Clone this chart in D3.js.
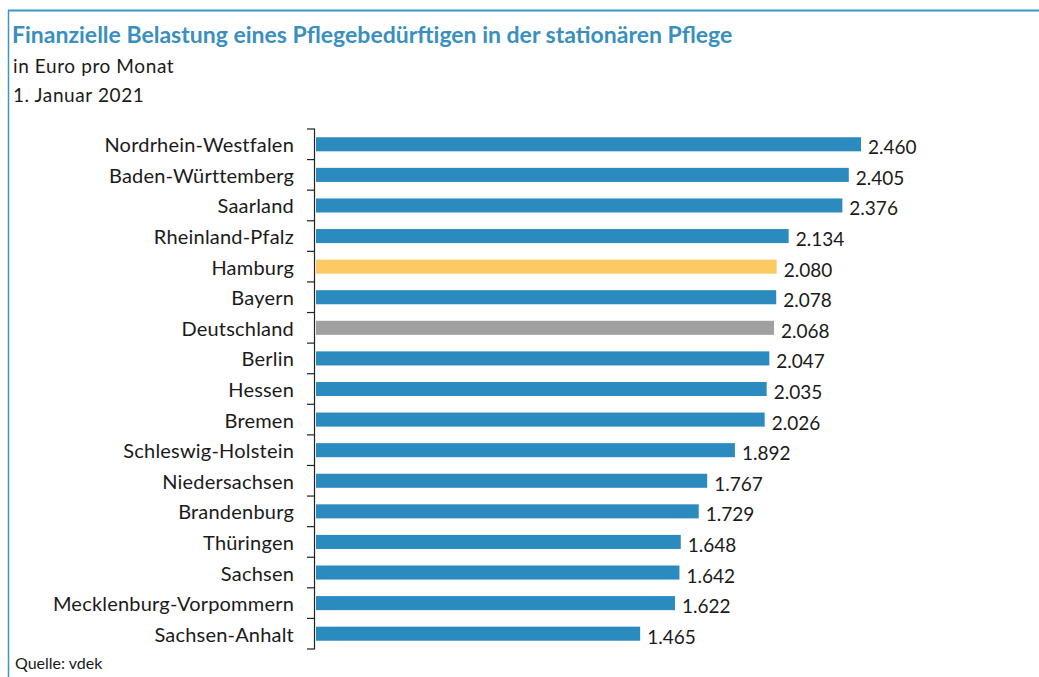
<!DOCTYPE html>
<html>
<head>
<meta charset="utf-8">
<script src="https://cdn.jsdelivr.net/npm/d3@7"></script>
<style>
  body { margin: 0; background: #fff; }
  svg text { font-family: Lato, "Open Sans", sans-serif; }
</style>
</head>
<body>
<svg id="chart" width="1039" height="677"></svg>
<script>
// Daten: Bundeslaender und monatliche Eigenanteile (Euro)
var states = ["Nordrhein-Westfalen", "Baden-Württemberg", "Saarland", "Rheinland-Pfalz",
  "Hamburg", "Bayern", "Deutschland", "Berlin", "Hessen", "Bremen", "Schleswig-Holstein",
  "Niedersachsen", "Brandenburg", "Thüringen", "Sachsen", "Mecklenburg-Vorpommern", "Sachsen-Anhalt"];
var costs = [2460, 2405, 2376, 2134, 2080, 2078, 2068, 2047, 2035, 2026, 1892, 1767, 1729, 1648, 1642, 1622, 1465];
var highlight = { "Hamburg": "#fdc962", "Deutschland": "#a0a0a0" };

var svg = d3.select("#chart");
var margin = { top: 129, left: 315, bottom: 28 };

/** Rahmen oben und links */
svg.append("line").attr("x1", 8).attr("x2", 1039).attr("y1", 10.5).attr("y2", 10.5)
  .attr("stroke", "#3d95c2").attr("stroke-width", 2);
svg.append("line").attr("x1", 8.5).attr("x2", 8.5).attr("y1", 10).attr("y2", 677)
  .attr("stroke", "#3d95c2").attr("stroke-width", 1.5);

/** Titel */
svg.append("text").attr("x", 12).attr("y", 43)
  .style("font-size", "23px").style("font-weight", 700).attr("fill", "#3a8fbf")
  .text("Finanzielle Belastung eines Pflegebedürftigen in der stationären Pflege");
svg.append("text").attr("x", 13).attr("y", 73).style("font-size", "19px")
  .style("letter-spacing", "0.6px").attr("fill", "#1a1a1a")
  .text("in Euro pro Monat");
svg.append("text").attr("x", 13).attr("y", 102).style("font-size", "19px")
  .style("letter-spacing", "0.6px").attr("fill", "#1a1a1a")
  .text("1. Januar 2021");

var x = d3.scaleLinear().domain([0, 2460]).range([margin.left, 861]);
var y = d3.scaleBand().domain(states).range([margin.top, 649]).paddingInner(0.54).paddingOuter(0.27);

/** Balken */
svg.selectAll("rect.bar").data(states).enter().append("rect")
  .attr("class", "bar")
  .attr("x", x(0) + 1)
  .attr("y", function(d) { return y(d); })
  .attr("width", function(d, i) { return x(costs[i]) - x(0) - 1; })
  .attr("height", y.bandwidth())
  .attr("fill", function(d) { return highlight[d] || "#2b8bbf"; });

/** Werte */
var fmt = function(v) { return d3.format(",")(v).replace(",", "."); };
svg.selectAll("text.val").data(states).enter().append("text")
  .attr("class", "val")
  .attr("x", function(d, i) { return x(costs[i]) + 7; })
  .attr("y", function(d) { return y(d) + y.bandwidth() / 2 + 10; })
  .style("font-size", "19px").attr("fill", "#1a1a1a")
  .text(function(d, i) { return fmt(costs[i]); });

/** Achse mit Strichen zwischen den Kategorien */
var axis = svg.append("g");
axis.append("line").attr("x1", x(0) - 0.5).attr("x2", x(0) - 0.5)
  .attr("y1", margin.top).attr("y2", 649).attr("stroke", "#222").attr("stroke-width", 1.2);
var step = y.step();
var tickPos = d3.range(states.length + 1).map(function(i) { return margin.top + i * step; });
axis.selectAll("line.tick").data(tickPos).enter().append("line")
  .attr("class", "tick")
  .attr("x1", x(0) - 8).attr("x2", x(0))
  .attr("y1", function(d) { return d; }).attr("y2", function(d) { return d; })
  .attr("stroke", "#222").attr("stroke-width", 1.2);
axis.selectAll("text.lab").data(states).enter().append("text")
  .attr("class", "lab")
  .attr("x", x(0) - 21)
  .attr("y", function(d) { return y(d) + y.bandwidth() / 2 + 8; })
  .attr("text-anchor", "end")
  .style("font-size", "20px").style("letter-spacing", "0.2px").attr("fill", "#1a1a1a")
  .text(function(d) { return d; });

/** Quelle */
svg.append("text").attr("x", 15).attr("y", 669).style("font-size", "16px").attr("fill", "#1a1a1a")
  .text("Quelle: vdek");
</script>
</body>
</html>
